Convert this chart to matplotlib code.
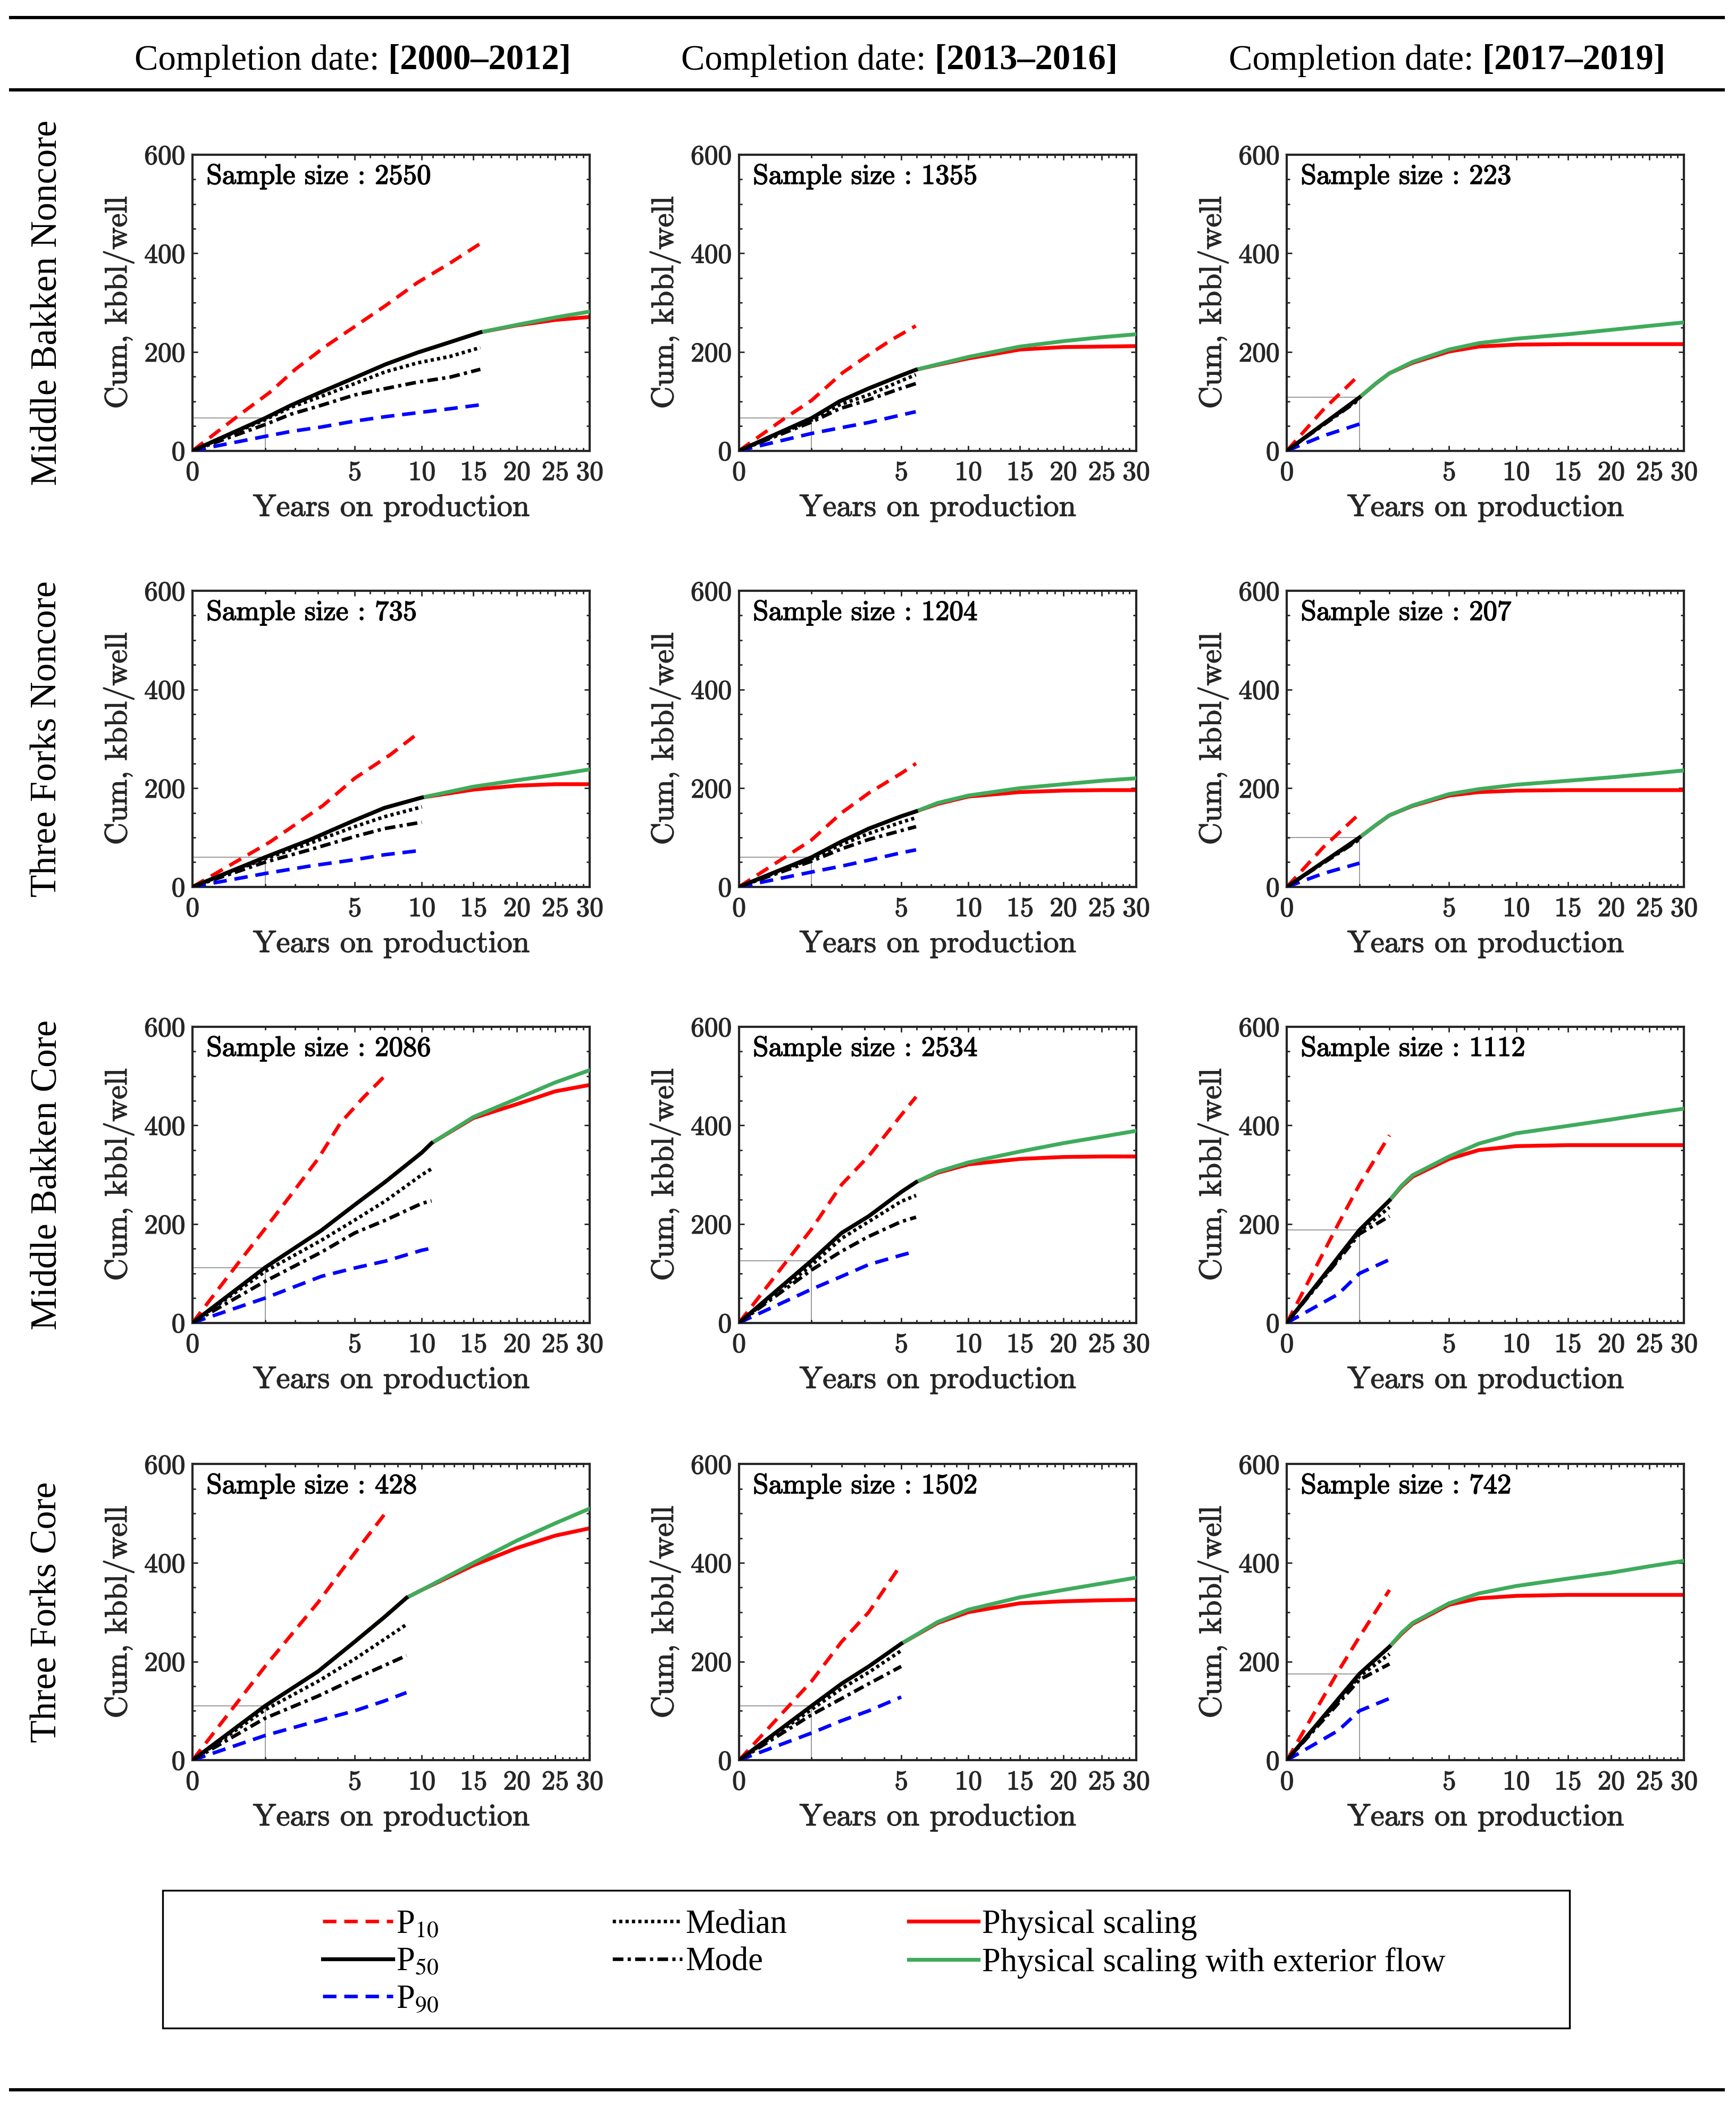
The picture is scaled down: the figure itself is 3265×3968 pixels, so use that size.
import numpy as np
import matplotlib
matplotlib.use("Agg")
import matplotlib.pyplot as plt
from matplotlib.lines import Line2D
from matplotlib.patches import Rectangle
from matplotlib.ticker import FixedLocator, MultipleLocator
import matplotlib.patheffects as pe

plt.rcParams['mathtext.fontset'] = 'stix'
plt.rcParams['axes.formatter.use_mathtext'] = True

# rows: formation/area, columns: completion period
row_names = ["Middle Bakken Noncore", "Three Forks Noncore", "Middle Bakken Core", "Three Forks Core"]
col_periods = ["[2000\u20132012]", "[2013\u20132016]", "[2017\u20132019]"]
sample_sizes = [2550, 1355, 223, 735, 1204, 207, 2086, 2534, 1112, 428, 1502, 742]

# historical statistics (years, kbbl/well), panel order row by row
t_obs = [
    [0, 1, 1.84, 3.15, 5, 7.08, 9.64, 12.6, 15.75],
    [0, 1, 1.92, 3.18, 4.95, 5.94],
    [0, 0.25, 1],
    [0, 1, 2.6, 5, 7, 10],
    [0, 1, 2, 3.2, 5, 5.96],
    [0, 0.25, 1],
    [0, 1, 3.15, 5, 7.08, 10, 10.86],
    [0, 1, 2, 3.2, 5, 5.96],
    [0, 0.5, 1, 2],
    [0, 1, 3, 5, 7, 8.7],
    [0, 1, 2, 3.2, 5],
    [0, 0.5, 1, 2],
]
p50 = [
    [0, 66, 92, 119, 148, 175, 199, 220, 240],
    [0, 66, 100, 126, 152, 164],
    [0, 54, 108],
    [0, 60, 95, 135, 160, 181],
    [0, 60, 92, 118, 143, 153],
    [0, 50, 100],
    [0, 112, 187, 239, 286, 345, 364],
    [0, 126, 182, 216, 265, 285],
    [0, 133, 188, 248],
    [0, 110, 180, 240, 290, 329],
    [0, 110, 155, 190, 236],
    [0, 124, 175, 230],
]
median = [
    [0, 63, 88, 110, 136, 160, 178, 191, 209],
    [0, 62, 93, 113, 141, 154],
    [0, 53, 106],
    [0, 57, 88, 122, 142, 162],
    [0, 57, 86, 108, 131, 140],
    [0, 49, 98],
    [0, 104, 167, 208, 247, 300, 312],
    [0, 117, 171, 205, 246, 258],
    [0, 130, 185, 234],
    [0, 102, 160, 205, 245, 275],
    [0, 103, 145, 178, 222],
    [0, 120, 170, 215],
]
mode = [
    [0, 53, 74, 92, 113, 126, 139, 149, 165],
    [0, 58, 85, 103, 126, 136],
    [0, 52, 104],
    [0, 50, 75, 102, 118, 131],
    [0, 52, 77, 96, 114, 122],
    [0, 48, 96],
    [0, 84, 143, 182, 208, 242, 247],
    [0, 107, 145, 175, 205, 214],
    [0, 127, 180, 216],
    [0, 85, 130, 165, 192, 212],
    [0, 92, 125, 155, 190],
    [0, 115, 163, 195],
]
p90 = [
    [0, 29, 39, 48, 60, 69, 77, 85, 93],
    [0, 35, 46, 57, 72, 79],
    [0, 30, 54],
    [0, 27, 42, 55, 65, 74],
    [0, 30, 42, 54, 69, 75],
    [0, 27, 48],
    [0, 50, 94, 111, 125, 147, 151],
    [0, 68, 94, 118, 137, 145],
    [0, 58, 100, 128],
    [0, 50, 80, 100, 120, 137],
    [0, 55, 80, 100, 128],
    [0, 60, 100, 125],
]
t_p10 = [
    [0, 0.47, 1.13, 2.01, 3.31, 7.08, 9.64, 12.59, 15.76],
    [0, 0.4, 1, 2.04, 3.18, 4.38, 5.94],
    [0, 0.25, 1],
    [0, 1.12, 3.24, 5, 7.45, 9.6],
    [0, 1, 2, 3.2, 5, 5.96],
    [0, 0.25, 1],
    [0, 0.39, 0.91, 1.77, 2.99, 4.16, 5.53, 6.39, 7.2],
    [0, 1, 2, 3.2, 5, 5.96],
    [0, 0.5, 1, 2],
    [0, 1, 3, 5, 7.25],
    [0, 1, 2, 3.2, 5],
    [0, 0.5, 1, 2],
]
p10 = [
    [0, 77, 118, 165, 210, 294, 341, 380, 420],
    [0, 66, 102, 158, 194, 224, 253],
    [0, 83, 154],
    [0, 90, 165, 220, 268, 310],
    [0, 95, 150, 190, 230, 250],
    [0, 80, 148],
    [0, 120, 182, 254, 332, 405, 456, 482, 505],
    [0, 190, 280, 338, 421, 458],
    [0, 200, 280, 380],
    [0, 190, 320, 420, 507],
    [0, 160, 240, 300, 397],
    [0, 180, 250, 345],
]

# physical scaling forecasts from end of history to 30 years
t_fit = [
    [15.75, 20, 25, 30],
    [5.94, 7.5, 10, 15, 20, 25, 30],
    [1, 1.5, 2, 3, 5, 7, 10, 15, 20, 25, 30],
    [10, 15, 20, 25, 30],
    [5.96, 7.5, 10, 15, 20, 25, 30],
    [1, 1.5, 2, 3, 5, 7, 10, 15, 20, 25, 30],
    [10.86, 15, 20, 25, 30],
    [5.96, 7.5, 10, 15, 20, 25, 30],
    [2, 2.5, 3, 5, 7, 10, 15, 20, 25, 30],
    [8.7, 10, 15, 20, 25, 30],
    [5, 7.5, 10, 15, 20, 25, 30],
    [2, 2.5, 3, 5, 7, 10, 15, 20, 25, 30],
]
phys = [
    [240, 254, 265, 271],
    [164, 174, 187, 205, 210, 211, 212],
    [108, 136, 157, 178, 201, 211, 215, 216, 216, 216, 216],
    [181, 197, 205, 208, 208],
    [153, 168, 183, 192, 195, 196, 196],
    [100, 125, 145, 164, 185, 192, 195, 196, 196, 196, 196],
    [364, 415, 443, 469, 482],
    [285, 304, 321, 332, 336, 337, 337],
    [248, 276, 296, 332, 350, 358, 360, 360, 360, 360],
    [329, 345, 395, 430, 455, 470],
    [236, 278, 300, 318, 322, 324, 325],
    [230, 256, 276, 315, 328, 333, 335, 335, 335, 335],
]
phys_ext = [
    [240, 255, 270, 282],
    [164, 175, 190, 211, 222, 230, 236],
    [108, 136, 157, 180, 205, 218, 227, 236, 245, 253, 260],
    [181, 203, 216, 227, 238],
    [153, 170, 185, 200, 208, 215, 220],
    [100, 125, 145, 165, 188, 198, 207, 215, 222, 229, 236],
    [364, 417, 454, 487, 512],
    [285, 306, 325, 347, 364, 377, 389],
    [248, 278, 299, 337, 363, 384, 399, 412, 424, 434],
    [329, 345, 400, 445, 480, 510],
    [236, 280, 305, 330, 345, 358, 370],
    [230, 258, 278, 318, 338, 353, 368, 380, 393, 404],
]

RED = '#ff0000'
BLUE = '#0000ff'
GREEN = '#3fab5c'
DARK = '#262626'
ls_p = (0, (3.8, 2.2))
ls_med = (0, (0.9, 0.9))
ls_mode = (0, (3, 1.2, 0.9, 1.2))
LW = 2.6
LWD = 2.4

bold_fx = [pe.withStroke(linewidth=0.6, foreground='black')]
dark_fx = [pe.withStroke(linewidth=0.5, foreground=DARK)]

fig = plt.figure(figsize=(3266 / 200, 3968 / 200), dpi=200)

lefts = [0.1109, 0.4256, 0.7411]
bottoms = [0.7864, 0.5797, 0.3731, 0.1658]
aw, ah = 0.2287, 0.1403

for i in range(12):
    r, c = divmod(i, 3)
    ax = fig.add_axes([lefts[c], bottoms[r], aw, ah])
    ax.set_xscale('function', functions=(np.sqrt, np.square))
    ax.set_xlim(0, 30)
    ax.set_ylim(0, 600)

    t = np.array(t_obs[i], dtype=float)
    y50 = np.array(p50[i], dtype=float)
    y1 = y50[list(t).index(1)]
    ax.plot([1, 1], [0, y1], color='#8a8a8a', lw=0.6, zorder=1)
    ax.plot([0, 1], [y1, y1], color='#8a8a8a', lw=0.6, zorder=1)

    tf = np.concatenate([t, t_fit[i][1:]])
    ax.plot(tf, np.concatenate([y50, phys[i][1:]]), color=RED, lw=LW, zorder=2)
    ax.plot(tf, np.concatenate([y50, phys_ext[i][1:]]), color=GREEN, lw=LW, zorder=3)

    ax.plot(t_p10[i], p10[i], color=RED, lw=LWD, ls=ls_p, zorder=4)
    ax.plot(t, p90[i], color=BLUE, lw=LWD, ls=ls_p, zorder=4)
    ax.plot(t, mode[i], color='black', lw=LWD, ls=ls_mode, zorder=5)
    ax.plot(t, median[i], color='black', lw=LWD, ls=ls_med, zorder=5)
    ax.plot(t, y50, color='black', lw=LW, zorder=6)

    ax.set_xticks([0, 5, 10, 15, 20, 25, 30])
    ax.xaxis.set_minor_locator(FixedLocator([k for k in range(1, 30) if k % 5]))
    ax.set_yticks([0, 200, 400, 600])
    ax.yaxis.set_minor_locator(MultipleLocator(50))
    ax.tick_params(which='both', direction='in', top=True, right=True, colors=DARK,
                   labelsize=18.5, width=1.0)
    ax.tick_params(which='major', length=3.6)
    ax.tick_params(which='minor', length=2.2)
    ax.tick_params(axis='x', pad=7)
    ax.tick_params(axis='y', pad=5)
    for lab in ax.get_xticklabels() + ax.get_yticklabels():
        lab.set_fontfamily('cmr10')
        lab.set_path_effects(dark_fx)
    for sp in ax.spines.values():
        sp.set_color(DARK)
        sp.set_linewidth(1.5)

    xl = ax.set_xlabel('Years on production', fontfamily='cmr10', fontsize=21,
                       labelpad=6, color=DARK)
    yl = ax.set_ylabel('Cum, kbbl/well', fontfamily='cmr10', fontsize=21,
                       labelpad=7, color=DARK)
    xl.set_path_effects(dark_fx)
    yl.set_path_effects(dark_fx)
    ax.text(0.035, 0.968, f'Sample size : {sample_sizes[i]}', transform=ax.transAxes,
            ha='left', va='top', fontfamily='cmr10', fontsize=19, color='black',
            path_effects=bold_fx)

# row labels
for r, name in enumerate(row_names):
    fig.text(0.0271, bottoms[r] + ah / 2, name, rotation=90, ha='center', va='center',
             fontsize=25, family='Liberation Serif')

# column headers with bold period
renderer = fig.canvas.get_renderer()
fw = fig.get_figwidth() * fig.dpi
col_centers = [0.2031, 0.5178, 0.8333]
for xc, per in zip(col_centers, col_periods):
    t1 = fig.text(0, 0.9713, 'Completion date: ', ha='left', va='center',
                  fontsize=24, family='Liberation Serif')
    t2 = fig.text(0, 0.9713, per, ha='left', va='center', fontsize=24,
                  family='Liberation Serif', fontweight='bold')
    w1 = t1.get_window_extent(renderer).width / fw
    w2 = t2.get_window_extent(renderer).width / fw
    x0 = xc - (w1 + w2) / 2
    t1.set_x(x0)
    t2.set_x(x0 + w1)

# horizontal rules
for yy in [0.9917, 0.9573, 0.0096]:
    fig.add_artist(Line2D([0.0062, 0.9922], [yy, yy], transform=fig.transFigure,
                          color='black', lw=2.2))

# legend box and entries
fig.add_artist(Rectangle((0.0938, 0.0389), 0.8101, 0.0651, transform=fig.transFigure,
                         fill=False, lw=1.2, ec='black'))
leg_prop = {'family': 'Liberation Serif', 'size': 22.5}
leg_kw = dict(loc='upper left', frameon=False, borderpad=0, borderaxespad=0,
              handlelength=2.1, handletextpad=0.1, labelspacing=0.2, prop=leg_prop)
leg_top = 0.0950
h1 = [Line2D([], [], color=RED, lw=LWD, ls=ls_p),
      Line2D([], [], color='black', lw=LW),
      Line2D([], [], color=BLUE, lw=LWD, ls=ls_p)]
fig.legend(h1, ['P$_{10}$', 'P$_{50}$', 'P$_{90}$'], bbox_to_anchor=(0.186, leg_top), **leg_kw)
h2 = [Line2D([], [], color='black', lw=LWD, ls=ls_med),
      Line2D([], [], color='black', lw=LWD, ls=ls_mode)]
fig.legend(h2, ['Median', 'Mode'], bbox_to_anchor=(0.3527, leg_top), **leg_kw)
h3 = [Line2D([], [], color=RED, lw=LW),
      Line2D([], [], color=GREEN, lw=LW)]
fig.legend(h3, ['Physical scaling', 'Physical scaling with exterior flow'],
           bbox_to_anchor=(0.5233, leg_top), **leg_kw)

fig.savefig('out.png', dpi=200)
